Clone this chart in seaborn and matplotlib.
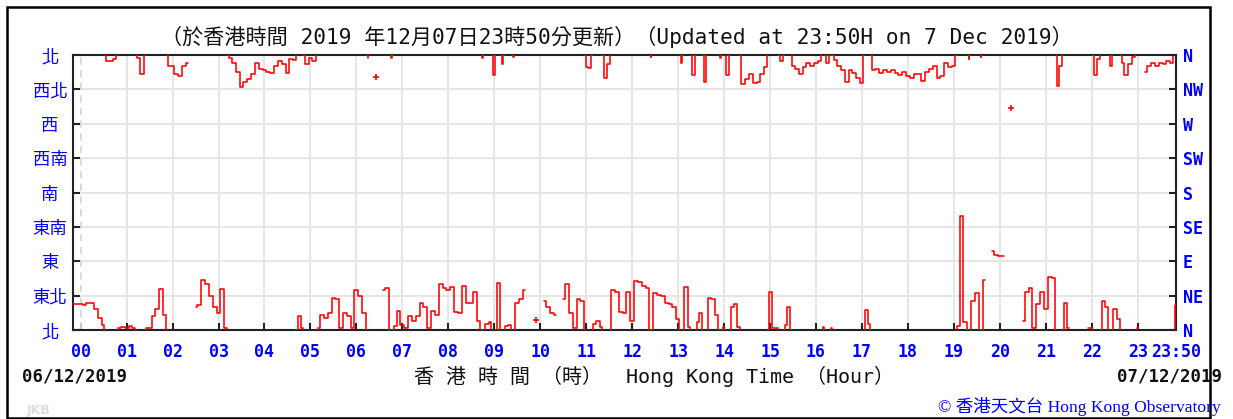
import numpy as np
import pandas as pd
import matplotlib
matplotlib.use("Agg")
import matplotlib.pyplot as plt
from matplotlib.patches import Rectangle
import seaborn as sns

# ---------------- data ----------------
start_minute = -10          # first sample: 23:50 on 06/12/2019
step_minutes = 5            # sampling interval

# wind direction (degrees, 0/360 = north), None = no data
wind_dir_deg = [
    34, 34,                                                    # 23:50-23:55
    34, 33, 35, 36, 28, 16, 6, 352, 352, 355, 2, 4,            # 00
    3, 5, 2, 356, 335, 2, 3, 18, 28, 54, 20, 346,              # 01
    346, 335, 332, 345, 350, None, 30, 33, 65, 60, 45, 30,     # 02
    22, 54, 2, 356, 350, 338, 318, 325, 328, 335, 350, 342,    # 03
    340, 338, 336, 345, 352, 348, 336, 355, 353, 18, 2, 348,   # 04
    356, 352, 2, 20, 16, 22, 42, 40, 2, 22, 18, 3,             # 05
    52, 45, 22, 356, None, 331, None, 52, 55, 356, 5, 25,      # 06
    6, 3, 18, 12, 18, 35, 30, 3, 25, 20, 60, 55,               # 07
    52, 56, 24, 22, 58, 36, 35, 50, 12, 356, 8, 10,            # 08
    334, 62, 348, 5, 6, 358, 36, 40, 52, None, None, 13,       # 09
    None, 38, 30, 22, 20, None, 40, 60, 22, 2, 40, 38,         # 10
    344, 343, 8, 12, 4, 330, 348, 52, 50, 24, 22, 50,          # 11
    12, 64, 63, 57, 55, 358, 48, 46, 44, 36, 34, 30,           # 12
    15, 350, 56, 4, 334, 10, 22, 325, 42, 40, 20, 356,         # 13
    4, 334, 30, 34, 4, 322, 328, 335, 323, 325, 335, 344,      # 14
    50, 2, 2, 352, 6, 30, 346, 342, 335, 344, 350, 346,        # 15
    350, 352, 4, 350, 2, 354, 346, 340, 325, 340, 336, 330,    # 16
    323, 26, 8, 340, 342, 336, 340, 338, 340, 336, 334, 338,   # 17
    332, 330, 335, 335, 326, 338, 342, 345, 330, 332, 350, 344,  # 18
    345, 5, 149, 10, 355, 38, 48, 358, 66, None, 104, 98,      # 19
    97, 97, None, 291, None, None, 12, 50, 55, 3, 34, 50,      # 20
    28, 70, 68, 319, 345, 35, 3, None, None, None, None, 3,    # 21
    3, 334, 355, 38, 30, 345, 28, 15, 350, 334, 348, 358,      # 22
    2, None, 338, 346, 350, 345, 350, 348, 352, 350, 33,       # 23
]

dir_ticks = [0, 45, 90, 135, 180, 225, 270, 315, 360]
dir_labels_zh = ["北", "東北", "東", "東南", "南", "西南", "西", "西北", "北"]
dir_labels_en = ["N", "NE", "E", "SE", "S", "SW", "W", "NW", "N"]

hour_ticks = list(range(24)) + [23 + 50 / 60]
hour_labels = ["00", "01", "02", "03", "04", "05", "06", "07", "08", "09",
               "10", "11", "12", "13", "14", "15", "16", "17", "18", "19",
               "20", "21", "22", "23", "23:50"]

title_text = "（於香港時間 2019 年12月07日23時50分更新）（Updated at 23:50H on 7 Dec 2019）"
xlabel_text = "香 港 時 間 （時）  Hong Kong Time （Hour）"
date_left = "06/12/2019"
date_right = "07/12/2019"
credit_text = "© 香港天文台 Hong Kong Observatory"

# ---------------- split at north wrap ----------------
n = len(wind_dir_deg)
hours = (start_minute + step_minutes * np.arange(n)) / 60.0
d = np.array([np.nan if v is None else v for v in wind_dir_deg], dtype=float)

segs = []
cx, cy = [], []


def flush():
    global cx, cy
    if cx:
        segs.append((cx, cy))
    cx, cy = [], []


last_real = None
for i in range(n):
    if np.isnan(d[i]):
        flush()
        last_real = None
        continue
    if last_real is not None:
        px, pv = last_real
        diff = d[i] - pv
        if abs(diff) > 180:
            if diff < 0:
                tgt = d[i] + 360
                f = (360 - pv) / (tgt - pv)
                xc = px + f * (hours[i] - px)
                cx.append(xc); cy.append(360)
                flush()
                cx, cy = [xc], [0]
            else:
                tgt = d[i] - 360
                f = pv / (pv - tgt)
                xc = px + f * (hours[i] - px)
                cx.append(xc); cy.append(0)
                flush()
                cx, cy = [xc], [360]
    cx.append(hours[i]); cy.append(d[i])
    last_real = (hours[i], d[i])
flush()

rows, iso = [], []
for k, (xs, ys) in enumerate(segs):
    if len(xs) == 1:
        iso.append({"hour": xs[0], "deg": ys[0]})
    else:
        for x, y in zip(xs, ys):
            rows.append({"hour": x, "deg": y, "seg": k})
df = pd.DataFrame(rows)
df_iso = pd.DataFrame(iso)

# ---------------- figure ----------------
sns.set_style("white")
plt.rcParams["font.family"] = ["DejaVu Sans Mono", "Noto Sans CJK TC"]

W, H = 1233, 419
fig = plt.figure(figsize=(W / 100, H / 100), dpi=100)
fig.patch.set_facecolor("white")

ax = fig.add_axes([73 / W, 1 - 330 / H, (1176 - 73) / W, (330 - 55) / H])
ax.set_xlim(start_minute / 60, 23 + 50 / 60)
ax.set_ylim(0, 360)

sns.lineplot(data=df, x="hour", y="deg", units="seg", estimator=None, sort=False,
             color="#ff0000", linewidth=1.15, drawstyle="steps-mid", ax=ax, zorder=3)
if len(df_iso):
    sns.scatterplot(data=df_iso, x="hour", y="deg", marker="+", s=22, color="#ff0000",
                    linewidth=1.2, ax=ax, zorder=3)

ax.set_xticks(hour_ticks)
ax.set_xticklabels(hour_labels)
ax.set_yticks(dir_ticks)
ax.set_yticklabels(dir_labels_zh)
ax.grid(True, color="#e6e6e6", linewidth=1.4, zorder=0)
ax.set_axisbelow(True)
ax.get_xgridlines()[0].set_visible(False)
ax.axvline(0, color="#d8d8d8", linewidth=1.3, linestyle=(0, (4, 3)), zorder=1)
ax.set_xlabel("")
ax.set_ylabel("")

for sp in ax.spines.values():
    sp.set_color("#222222")
    sp.set_linewidth(1.5)

ax.tick_params(axis="x", direction="in", length=5, width=1.5, color="#222222",
               pad=9, labelsize=12, labelcolor="#0000ff", bottom=True, top=False)
ax.tick_params(axis="y", direction="in", length=5, width=1.5, color="#222222",
               pad=16.5, labelsize=12.5, labelcolor="#0000ff", left=True, right=False)
for lbl in ax.get_xticklabels():
    lbl.set_fontweight("bold")
    lbl.set_family(["DejaVu Sans Mono"])
for lbl in ax.get_yticklabels():
    lbl.set_ha("center")
    lbl.set_family(["Noto Sans CJK TC"])
# hide tick mark at 23:50 (right edge)
ax.xaxis.get_major_ticks()[-1].tick1line.set_visible(False)

ax2 = ax.twinx()
ax2.set_ylim(0, 360)
ax2.set_yticks(dir_ticks)
ax2.set_yticklabels(dir_labels_en)
ax2.tick_params(axis="y", direction="in", length=5, width=1.5, color="#222222",
                pad=5, labelsize=12, labelcolor="#0000ff")
for lbl in ax2.get_yticklabels():
    lbl.set_fontweight("bold")
    lbl.set_family(["DejaVu Sans Mono"])
for sp in ax2.spines.values():
    sp.set_visible(False)
ax2.grid(False)

# texts
fig.text(617 / W, 1 - 37 / H, title_text, ha="center", va="center", fontsize=15.2,
         color="#111111", family=["DejaVu Sans Mono", "Noto Sans CJK TC"])
fig.text(654 / W, 1 - 376 / H, xlabel_text, ha="center", va="center", fontsize=14.4,
         color="#111111", family=["DejaVu Sans Mono", "Noto Sans CJK TC"])
fig.text(22 / W, 1 - 376 / H, date_left, ha="left", va="center", fontsize=12.5,
         fontweight="bold", color="#111111", family=["DejaVu Sans Mono"])
fig.text(1222 / W, 1 - 376 / H, date_right, ha="right", va="center", fontsize=12.5,
         fontweight="bold", color="#111111", family=["DejaVu Sans Mono"])
fig.text(27 / W, 1 - 410 / H, "JKB", ha="left", va="center", fontsize=9,
         fontweight="bold", color="#dddddd", family=["DejaVu Sans"])
fig.text(1221 / W, 1 - 406 / H, credit_text, ha="right", va="center", fontsize=12.6,
         color="#0000ff", family=["Liberation Serif", "Noto Sans CJK TC"])

# outer frame
fig.patches.append(Rectangle((7 / W, 1 / H), (1210 - 7) / W, (418 - 7) / H,
                             transform=fig.transFigure, fill=False,
                             edgecolor="black", linewidth=1.8, zorder=0))

fig.savefig("out.png", dpi=100, facecolor="white")
